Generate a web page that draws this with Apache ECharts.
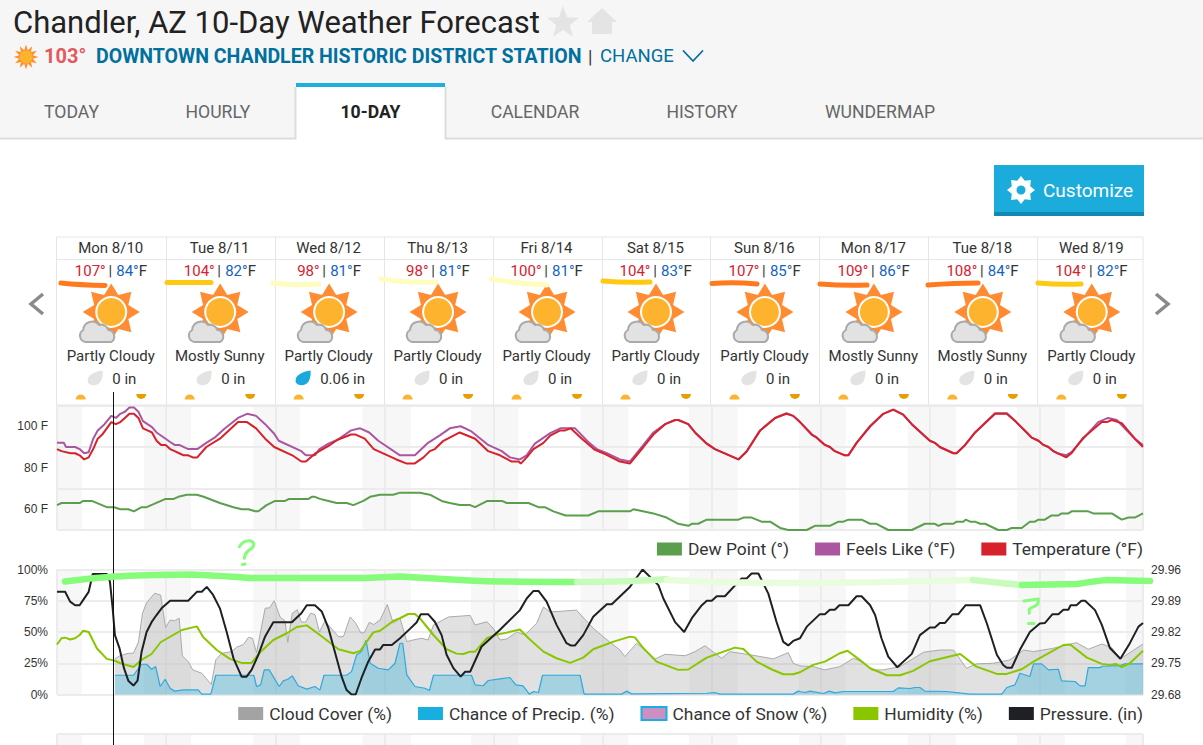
<!DOCTYPE html>
<html><head><meta charset="utf-8"><title>Chandler, AZ 10-Day Weather Forecast</title>
<style>html,body{margin:0;padding:0;background:#fff;overflow:hidden}#c{width:1203px;height:745px}</style>
<script src="https://cdn.jsdelivr.net/npm/echarts@6/dist/echarts.min.js"></script></head><body><div id="c"></div>
<script>
const dayLabels=['Mon 8/10','Tue 8/11','Wed 8/12','Thu 8/13','Fri 8/14','Sat 8/15','Sun 8/16','Mon 8/17','Tue 8/18','Wed 8/19'];
const highs=[107,104,98,98,100,104,107,109,108,104];
const lows=[84,82,81,81,81,83,85,86,84,82];
const conditions=['Partly Cloudy','Mostly Sunny','Partly Cloudy','Partly Cloudy','Partly Cloudy','Partly Cloudy','Partly Cloudy','Mostly Sunny','Mostly Sunny','Partly Cloudy'];
const precipAmounts=['0 in','0 in','0.06 in','0 in','0 in','0 in','0 in','0 in','0 in','0 in'];
const tabs=['TODAY','HOURLY','10-DAY','CALENDAR','HISTORY','WUNDERMAP'];
const tempTicks=[60,80,100];
// the time axis ends just short of 240 h: the last day column is cut off
const AXIS_HOURS=238.8, READ_SPAN=240;
// night bands, hours from the start of the chart
const nightBands=[[0,5.5],[19.2,29.6],[43.4,53.7],[67.5,78.2],[91.5,102],[115.7,126.3],[139.7,150.4],[164,174.3],[188,198.7],[212.2,222.8],[236.2,240]];
// [hour, value]
const temperature=[[0,89],[1,88],[3,87],[4,87],[5,86],[6,84],[7,85],[8,89],[9,94],[10,96],[11,99],[12,102],[13,101],[14,102],[15,104],[16,106],[17,106],[18,104],[19,99],[20,98],[21,97],[22,93],[23,91],[24,91],[25,89],[26,88],[27,87],[28,86],[29,86],[30,85],[31,85],[33,90],[36,94],[40,102],[42,102],[44,99],[46,94],[48,90],[52,86],[54,83],[55,83],[57,86.8],[60,90.5],[62,93.5],[65,96],[66,96],[68,94],[70,89],[75,84],[77.3,82],[79,82],[81,85],[82.4,88],[83.5,89],[85.4,93],[89,97],[92.4,94],[95.3,88],[97.9,86],[100.5,83],[102,83],[102.5,82],[103.8,85],[105.3,89],[107.5,92],[109,95.5],[111.2,98],[112.3,98],[113.5,99],[116,94],[118.9,88.6],[120.7,87],[124.4,83],[126.6,82],[129.6,90],[131.8,96],[134.4,101],[136.6,103],[137.3,103],[139.5,101],[141,97],[143.6,91.6],[145.4,89],[150.6,84],[152.4,87.8],[155.4,98],[158.7,104],[161.2,106],[162.7,105],[164.2,102],[166.8,96],[167.9,94.5],[169.7,91],[170.8,90],[171.9,88],[174.1,86],[174.9,86],[176.7,92],[179.7,100],[182.6,106],[184.8,108],[187,105.6],[188.9,101],[192.9,93],[194,92],[195.1,90],[198.1,87],[198.8,87],[200.7,91],[202.9,97],[207.3,106],[209.9,106],[212,102],[214.3,97],[215.4,94.5],[216.9,93],[218,91],[219.1,90],[220.2,88],[223,85],[224.2,87],[226.8,94.5],[230.9,102],[232,102],[233.1,103],[235.3,101.5],[238.2,94],[240,90]];
const feelsLike=[[0,92],[1.5,92],[2,90],[4,90],[5,89],[6,87],[7,87.5],[8,94],[9,98],[10.5,101],[12,105],[13,104],[14,106],[15,107],[16,109],[17,109],[18,107],[19,102.5],[20,101],[21,99.6],[22,97],[24,94],[25,92.4],[26,91],[27,91],[29,89],[31,89],[33,92],[35,94.8],[37,98.8],[40,104],[42,106],[44,105],[46,101],[48,96.4],[49,93],[54,88],[55,86],[57,86],[58,89],[60,91.6],[62,93.5],[65,98],[67,99],[69,97],[71,93],[75.8,86],[79.1,86],[82,92],[84.6,95.6],[86.8,99],[89.2,100],[91.6,97.5],[95.3,91],[98.3,88],[100.1,85],[102.3,84],[103.8,86],[105.6,91.6],[109,96.7],[111.2,99],[114.5,99],[117.4,92.4],[119.3,89],[121.5,87],[124.4,84],[126.6,83],[129.6,91],[131.8,97],[134.4,101],[136.6,103],[137.3,103],[139.5,101],[141,97],[143.6,91.6],[145.4,89],[150.6,84],[152.4,87.8],[155.4,98],[158.7,104],[161.2,106.3],[162.7,105],[164.2,102],[166.8,96],[167.9,94.5],[169.7,91],[170.8,90],[171.9,88],[174.1,86],[174.9,86],[176.7,92],[179.7,100],[182.6,106],[184.8,108],[187,105.6],[188.9,101],[192.9,93],[194,92],[195.1,90],[198.1,87],[198.8,87],[200.7,91],[202.9,97],[207.3,106.3],[209.9,106.3],[212,102],[214.3,97],[215.4,94.5],[216.9,93],[218,91],[219.1,90],[220.2,88],[221,87],[223,86],[224.2,87.5],[227.2,95],[230.1,102],[232.3,104],[234.2,103],[238.2,94],[240,91]];
const dewPoint=[[0,62],[1,63],[5,63],[5.8,64],[7.7,64],[11,61],[12.6,61],[14,60],[15.8,60],[17,59],[18.7,61],[19.8,61],[24,65],[25.8,65],[26.8,66],[28.7,67],[30.9,67],[32.4,66],[36,63],[39,61],[40.8,60],[42.3,60],[43.8,59],[44.5,59],[46.3,62],[48.2,64],[50.4,64],[51.3,65],[55.6,65],[56.3,66],[57,66],[58.1,65],[60,64],[61.8,63],[64,63],[65.5,62],[67.7,64],[69.2,66],[71.4,67],[74.3,67],[75.8,68],[80.2,68],[82.4,67],[85,64],[86.8,63],[89,62],[91.3,62],[92.4,61],[95.1,64],[98.3,64],[99.4,63],[104.2,63],[106.4,61],[107.8,61],[109.7,59],[112.4,57],[117.4,57],[119.6,59],[126.6,59],[127.4,60],[131.8,58],[134.7,56],[137.3,53],[139.5,52],[140.3,53],[141.7,53],[143.6,55],[150.6,55],[151.7,56],[153.5,56],[155.7,54],[157.6,54],[159.8,51],[161.6,50],[165.7,50],[167.5,52],[170.8,52],[172.7,54],[173.8,54],[174.9,55],[177.8,55],[179.7,53],[181.1,53],[183.7,50],[188.9,50],[191.8,53],[194,53],[194.8,52],[195.9,53],[198.1,53],[198.8,54],[200.3,54],[200.8,55],[201.8,54],[202.9,54],[204,53],[205.1,53],[208,50],[209.9,50],[211,51],[213.2,51],[215,54],[216.1,54],[216.9,55],[218.3,55],[219.8,57],[221.3,57],[222,58],[223.5,58],[224.2,59],[227.9,59],[229,58],[233.1,58],[235.3,55],[236.8,56],[238.2,56],[240,58]];
const humidity=[[0,40],[1,45],[1.8,45.5],[2.9,44],[4,45],[5,47.6],[5.8,51],[7,50],[8.8,37],[11,28.5],[12.8,27],[14,25],[16.9,22],[18.7,27.7],[20.9,32.4],[22.9,41.8],[27.6,51.6],[30.9,54.5],[32.3,46],[35.3,35.6],[38.2,28.5],[40.8,25.3],[43,25.3],[44.9,33.8],[47.8,43.6],[50.8,49],[53,54],[55.2,55.3],[58.1,47.6],[62.2,36.2],[65.5,33],[67,34.8],[69.9,49.7],[71.4,51],[74.3,58.8],[75.8,61],[77.6,64.4],[79.1,64.4],[80.2,61],[83.2,47.6],[86.1,36.2],[88.3,32.7],[89.8,32.4],[91.3,34.3],[92.4,34.3],[95,45],[97.2,48],[99.4,49.5],[102.3,52],[104.2,45],[107.5,34.3],[110.4,29],[113.4,25.3],[116.3,29.5],[118.5,36.2],[123,42.3],[126.6,46.3],[127.7,45.7],[129.6,37],[132.5,26.3],[137.3,19.7],[139.5,20],[143.6,29.5],[149.8,37.5],[151.7,36.4],[154.6,26.3],[158,20],[160.5,16.2],[162.7,16.2],[164.2,17.8],[167.1,23.7],[169.7,26.3],[173,33],[174.7,35],[177.1,28.5],[179.7,21],[183.4,15.4],[186.3,15.4],[189.2,18.9],[192.9,26.6],[199.6,32.4],[203.2,22.3],[207.7,16.5],[209.9,16.5],[213.2,20.2],[215.8,26.3],[222.4,39.6],[223.9,40],[227.6,29.5],[230.9,24.5],[232.7,23.7],[234,24.5],[235.3,22],[237.1,25],[240,35]];
const pressure=[[0,29.91],[1.8,29.91],[2.9,29.888],[4,29.88],[5,29.88],[5.8,29.892],[7,29.91],[7.9,29.95],[11,29.95],[11.7,29.933],[12.3,29.873],[12.8,29.813],[13.8,29.784],[14.8,29.739],[15.8,29.71],[16.9,29.70],[17.8,29.711],[18.7,29.776],[19.8,29.82],[20.9,29.842],[22,29.858],[23.1,29.873],[25,29.89],[29,29.89],[30.9,29.91],[32,29.91],[33.1,29.921],[34.5,29.903],[36,29.873],[37.5,29.82],[39,29.761],[40.8,29.72],[41.9,29.72],[43,29.735],[44.5,29.769],[46,29.81],[47.8,29.842],[51.9,29.842],[54,29.862],[55.2,29.88],[57,29.88],[58.5,29.866],[60,29.828],[61.4,29.776],[62.9,29.72],[64,29.69],[65.1,29.68],[66,29.68],[67.3,29.717],[68.8,29.754],[70.3,29.781],[71.4,29.781],[72.1,29.791],[74,29.791],[75.8,29.806],[78,29.827],[79.5,29.842],[80.4,29.86],[82,29.86],[83.5,29.843],[85,29.813],[86.1,29.769],[87.6,29.739],[89.2,29.72],[90.2,29.731],[91.3,29.731],[93.8,29.787],[97.9,29.825],[102.3,29.869],[103.8,29.895],[105.3,29.912],[106.4,29.912],[108.2,29.888],[110.4,29.836],[112.6,29.795],[113.5,29.79],[114.5,29.79],[116.3,29.813],[118.5,29.854],[121.5,29.882],[122.6,29.882],[126.6,29.921],[129.4,29.96],[132.9,29.925],[134,29.895],[136.6,29.842],[138.6,29.82],[140.3,29.851],[142.5,29.88],[143.6,29.89],[144.7,29.89],[145.8,29.9],[147.6,29.9],[151.3,29.94],[152.4,29.94],[153.5,29.951],[155,29.951],[157.2,29.906],[159,29.843],[160.5,29.798],[161.6,29.79],[162.7,29.8],[164.2,29.806],[165.7,29.832],[168.6,29.86],[169.7,29.86],[170.8,29.87],[171.9,29.87],[172.9,29.88],[174.9,29.88],[176.7,29.9],[177.8,29.9],[179.7,29.88],[180.8,29.858],[182.2,29.806],[183.7,29.765],[185.7,29.741],[188.9,29.771],[190.7,29.813],[192.9,29.83],[194,29.83],[195.1,29.84],[196.2,29.84],[197.9,29.86],[199.2,29.86],[200.8,29.88],[204,29.88],[205.5,29.839],[207.7,29.769],[209.1,29.746],[209.9,29.74],[211,29.74],[212.8,29.78],[215,29.82],[217.2,29.839],[218.3,29.84],[220,29.86],[221.3,29.86],[222.4,29.87],[223.5,29.87],[224,29.88],[225.3,29.88],[226.4,29.89],[227.2,29.89],[229.4,29.869],[230.9,29.836],[232.7,29.784],[235,29.76],[237.1,29.795],[239,29.832],[240,29.84]];
const cloudCover=[[12.8,28.5],[13.9,31],[15.8,33],[16.9,33],[18,42],[18.9,65],[19.8,73.4],[21.6,81],[22.9,79.5],[24,53.5],[25,59.6],[26,59],[27,61],[27.7,31],[29,26.3],[30,19.7],[32,17],[34.1,8],[35.1,27.7],[36.4,33],[38.6,34.3],[39.7,37.8],[41.2,40],[42.3,45.7],[43.2,45],[44.1,33.5],[46,69],[47,69.4],[48,75],[49.3,62],[50.4,58.8],[51,41.8],[52,65],[53.1,67.8],[54,58],[55,58],[56,65],[57,64],[58,50],[59.2,58.8],[62.2,46.3],[63.3,46.3],[64.8,62],[65.9,57.7],[67.2,49],[68,50],[69,57.7],[70,56],[71.4,59.6],[73,72],[74.3,57],[75.8,61],[77.3,42.3],[78.7,43.6],[80.6,45],[82,43.6],[83.2,55.6],[86.5,62],[91.3,63.3],[92.4,55.6],[95,58.2],[96.4,53],[97.9,43.6],[99.4,44.4],[101.6,50],[103.4,47.6],[106,57],[107.5,70],[109,66],[114.8,67.5],[118.5,53],[122.2,41.8],[124.4,35.6],[125.5,30.3],[128.1,41],[132.2,28.5],[134.4,32.2],[138.8,31],[141,34.3],[143.2,39],[146.9,29],[148.7,34.3],[153.5,31.6],[158.3,28.5],[161.6,33.5],[162.7,25],[164.2,22.9],[167.1,22.3],[169.7,19.7],[173,22.3],[176,29],[178.2,25.8],[180,19.7],[182.6,19.7],[186.3,22.3],[191.5,33.8],[195.1,35.6],[198.1,35.6],[201,21],[203.2,24.5],[206.9,25],[210.6,27.7],[213.6,35.6],[215.8,34.3],[220.2,37],[225.3,41.5],[227.9,36.2],[230.9,40.4],[233.1,37.5],[235,28.5],[240,40.4]];
const precipChance=[[12.8,15.4],[16.9,15.4],[18.7,24.2],[19.8,24.2],[20.9,20.2],[21.8,22.3],[22.8,6.4],[23.9,12.2],[25,5],[26,2.7],[27.9,3.7],[31.2,3.7],[32,0.3],[34,0.3],[35.1,15.4],[43.5,15.4],[44.1,6.4],[45,7.7],[45.8,19.7],[46.9,19.7],[49.1,6.4],[50,10.9],[51,12.2],[52,14.9],[53.3,7],[55.2,4.3],[57,6.4],[58.1,3.5],[59,15.4],[64,15.4],[65.1,18.3],[66.2,31.6],[67.3,34.3],[68.3,43.4],[69.2,25],[71,21],[73.2,19.7],[74.7,25],[75.8,41],[76.4,41],[77.3,15.7],[79.1,6.4],[81.3,5],[82.3,3.2],[83.2,15.4],[91.6,15.4],[92.4,7.7],[94.2,7],[95.3,11.2],[97.9,12.5],[100.1,13.6],[101.4,7.7],[103,6.9],[104.4,0.3],[105.3,2.4],[106.4,1.6],[107.3,15.4],[115.6,15.4],[116.5,0.3],[124.8,0.3],[125.9,2.7],[127,0.5],[143.6,1],[145.4,1.6],[146.5,0.3],[162.7,0.3],[163.8,2.7],[164.2,2.4],[165.3,1.6],[166.4,2.7],[169.4,0.8],[170.7,2.7],[171.9,1.3],[173.8,2.4],[184.8,2.4],[185.9,5.3],[188.5,4.8],[189.6,5.6],[190.7,5.6],[191.8,2.7],[196.6,2.4],[201.8,0.3],[208.8,0.3],[209.9,5.6],[211.7,7.7],[212.8,17],[215,14.4],[215.8,24.5],[217.6,24.5],[219.1,19.7],[221.3,20.2],[222,10.9],[225,10.4],[226.1,6.9],[227.2,6.9],[227.9,21.5],[230.5,21.5],[231,22.6],[234.9,23.1],[236,24.5],[240,24.5]];
const snowChance=[];

const ROBOTO='Roboto, sans-serif', ARIAL='"Liberation Sans", Arial, sans-serif';
const GRID_LINE='#ececec', NIGHT='#f7f7f7';
const gfx=[];
const add=o=>{gfx.push(o);return o};
const txt=(x,y,s,size,fill,align,weight,z)=>add({type:'text',x,y,z:z||50,silent:true,style:{text:s,font:(weight||'normal')+' '+size+'px '+ROBOTO,fill,textAlign:align||'left',textVerticalAlign:'middle'}});
const rect=(x,y,w,h,fill,z)=>add({type:'rect',z:z===undefined?1:z,silent:true,shape:{x,y,width:w,height:h},style:{fill}});
const seg=(x1,y1,x2,y2,stroke,lw,z)=>add({type:'line',z:z||50,silent:true,shape:{x1,y1,x2,y2},style:{stroke,lineWidth:lw||1}});
let shapeCount=0;
const pathEl=(d,style,z)=>{const name='chromePath'+(shapeCount++);echarts.graphic.registerShape(name,echarts.graphic.extendPath(d,{}));return add({type:name,z:z||50,silent:true,shape:{},style:Object.assign({fill:'none',lineCap:'round',lineJoin:'round'},style)})};
function star(cx,cy,R,r,n,fill,rot,z){const p=[];for(let i=0;i<2*n;i++){const a=(rot||0)+Math.PI*i/n-Math.PI/2,q=i%2?r:R;p.push([cx+q*Math.cos(a),cy+q*Math.sin(a)])}add({type:'polygon',z:z||50,silent:true,shape:{points:p},style:{fill}})}
const circle=(cx,cy,r,fill,z,stroke,lw)=>add({type:'circle',z:z||50,silent:true,shape:{cx,cy,r},style:{fill,stroke,lineWidth:lw}});

// page header
rect(0,0,1203,139,'#f6f6f6',0);
seg(0,138.5,296,138.5,'#dcdcdc',2,1);seg(445,138.5,1203,138.5,'#dcdcdc',2,1);
txt(13,22,'Chandler, AZ 10-Day Weather Forecast',31,'#222');
star(563,23,17,7,5,'#e4e4e4');
add({type:'polygon',z:50,silent:true,shape:{points:[[602,8],[617,22],[612,22],[612,34],[592,34],[592,22],[587,22]]},style:{fill:'#e4e4e4'}});
star(26,57,12.5,7,12,'#ff8f2e');circle(26,57,6.5,'#fdb32d',51);
txt(44,56,'103°',20,'#e2595f','left','bold');
txt(96,56,'DOWNTOWN CHANDLER HISTORIC DISTRICT STATION',19.55,'#00709e','left','bold');
txt(588,56,'|',18,'#333');
txt(600,56,'CHANGE',18.5,'#00709e');
pathEl('M683.5 51 L693 61 L702.5 51',{stroke:'#00709e',lineWidth:1.8});
rect(295,85,151,54,'#fff',2);rect(296,83,149,4,'#1dafdf',3);
seg(295.5,87,295.5,139,'#dcdcdc',2,3);seg(445.5,87,445.5,139,'#dcdcdc',2,3);
const tabX=[71.5,218,370.5,535,702,880];
tabs.forEach((t,i)=>txt(tabX[i],112,t,17.6,i===2?'#222':'#666','center',i===2?'bold':'normal'));
// customize button
rect(994,165,150,51,'#1bacdc',1);rect(994,212,150,4,'#1288b3',2);
star(1021,190,14,10,8,'#fff',0);circle(1021,190,9,'#fff',51);circle(1021,190,4.5,'#1bacdc',52);
txt(1043,190,'Customize',19,'#fff');
// nav arrows
pathEl('M43 294 L31 304 L43 314',{stroke:'#8a8a8a',lineWidth:3.5,lineCap:'butt',lineJoin:'miter'});
pathEl('M1156 294 L1168 304 L1156 314',{stroke:'#8a8a8a',lineWidth:3.5,lineCap:'butt',lineJoin:'miter'});
// forecast table
const X0=56.75,CW=108.95;
add({type:'rect',z:1,silent:true,shape:{x:56.5,y:237,width:1086.5,height:168},style:{fill:'none',stroke:'#e6e6e6',lineWidth:1}});
seg(57,259.5,1143,259.5,'#e6e6e6',1,1);
const strokes=[
 ['M61 283 Q80 285 105 285.5','#ff7a1f'],['M167 282.5 L211 282.5','#ffc913'],['M273 283 Q295 286 319 284','#fffcc0'],['M381 279 Q410 283 436 282','#fffcc0'],['M491 279 Q520 284 547 285','#fffcc0'],
 ['M603 281 Q625 283 650 282','#ffc913'],['M712 283.5 Q735 282 757 284','#ff7a1f'],['M820 284 Q845 286 867 285','#ff7a1f'],['M928 285 Q955 283 978 283','#ff7a1f'],['M1038 283 Q1060 285 1081 284','#ffc913']];
dayLabels.forEach((d,i)=>{
  const x=X0+CW*i,c=x+CW/2;
  if(i) seg(Math.round(x)+.5,237,Math.round(x)+.5,405,'#e6e6e6',1,1);
  txt(c-.5,248,d,15,'#333','center');
  const off=highs[i]>=100?0:-4;
  txt(c-5.5+off,271,highs[i]+'°',15,'#d7202f','right');
  txt(c-1+off,271,'|',15,'#333','center');
  txt(c+5+off,271,lows[i]+'°',15,'#1565c0');
  txt(c+27.5+off,271,'F',15,'#333');
  pathEl(strokes[i][0],{stroke:strokes[i][1],lineWidth:5},52);
  // weather icon
  star(c,312,28.5,18.5,8,'#ff8c32',0,40);
  circle(c,312,16,'#fff',41);circle(c,312,14,'#fdb32d',42);
  const cx=c-13,cy=335;
  pathEl('M'+(cx-13)+' '+(cy+7)+' a6.5 6.5 0 0 1 -2 -12 a9 9 0 0 1 16 -5 a7 7 0 0 1 9 5 a6.5 6.5 0 0 1 3 12 Z',{fill:'#e2e2e2',stroke:'#aaa',lineWidth:2},43);
  txt(c-.5,356,conditions[i],15,'#333','center');
  const wet=precipAmounts[i]!=='0 in',dx=wet?-26:-16;
  pathEl('M'+(c+dx+7.5)+' 370.5 Q'+(c+dx+8)+' 381 '+(c+dx+3)+' 384 Q'+(c+dx-3)+' 387 '+(c+dx-7)+' 383 Q'+(c+dx-9)+' 378 '+(c+dx-4)+' 374.5 Q'+(c+dx+1)+' 371 '+(c+dx+7.5)+' 370.5 Z',{fill:wet?'#1aa9dc':'#e3e3e3'});
  txt(c+(wet?-9:1),378.5,precipAmounts[i],15,'#333');
  // sunrise / sunset domes
  pathEl('M'+(x+19)+' 399.5 a5 5 0 0 1 10 0 Z',{fill:'#fdb32d'});
  pathEl('M'+(x+79.5)+' 394 a5 5 0 0 0 10 0 Z',{fill:'#e69f00'});
});
// current-time cursor and hand-drawn annotations
seg(113.5,392,113.5,745,'#111',1,60);
pathEl('M65 581.5 Q90 578 115 576.5 T190 574.5 Q225 576 250 578 L365 578 T400 576.5 Q430 578 460 580 T577 582',{stroke:'#86fc7a',lineWidth:6.5},61);
pathEl('M577 582 Q630 582 667 579',{stroke:'#c9fcbc',lineWidth:6.5},61);
pathEl('M667 580 Q720 583 790 583 T973 580',{stroke:'#e8fddc',lineWidth:6.5},61);
pathEl('M973 580 Q1000 583 1022 585',{stroke:'#c9fcbc',lineWidth:6.5},61);
pathEl('M1022 585 L1077 584 Q1095 581 1107 580 L1150 581',{stroke:'#86fc7a',lineWidth:6.5},61);
pathEl('M239.3 546.7 Q243.3 540 250 540.7 Q256.7 543.3 251.7 548.3 Q245 551.7 244.3 558.3 M242.5 564.5 L245 564',{stroke:'#86fc7a',lineWidth:3},61);
pathEl('M1024 601 L1038.3 599 Q1039.3 605 1033.3 606.7 L1029.3 609 L1029.3 613.3 M1028.5 623.5 L1034 623.5',{stroke:'#86fc7a',lineWidth:3},61);

const onAxis=d=>d.map(p=>[p[0]*AXIS_HOURS/READ_SPAN,p[1]]);
const xAxis=g=>({type:'value',gridIndex:g,min:0,max:AXIS_HOURS,interval:24,axisLine:{show:false},axisTick:{show:false},axisLabel:{show:false},splitLine:{show:true,lineStyle:{color:GRID_LINE,width:2}}});
const yStyle={axisLine:{show:false},axisTick:{show:false},splitLine:{show:true,lineStyle:{color:GRID_LINE,width:2}}};
const nightArea=()=>({silent:true,z:-1,itemStyle:{color:NIGHT},data:nightBands.map(b=>[{xAxis:b[0]*AXIS_HOURS/READ_SPAN},{xAxis:b[1]*AXIS_HOURS/READ_SPAN}])});
const line=(name,data,color,x,y,extra)=>Object.assign({name,type:'line',data:onAxis(data),xAxisIndex:x,yAxisIndex:y,showSymbol:false,symbol:'none',smooth:false,silent:true,animation:false,lineStyle:{color,width:2},itemStyle:{color}},extra||{});
const legendBase={orient:'horizontal',icon:'rect',itemWidth:25,itemHeight:13,itemGap:26,selectedMode:false,padding:0,textStyle:{fontFamily:ROBOTO,fontSize:17.4,color:'#333',padding:[0,0,0,1]}};

const option={
  animation:false,backgroundColor:'#fff',
  textStyle:{fontFamily:ROBOTO},
  graphic:{elements:gfx},
  grid:[{left:57,width:1086,top:405.5,height:124.5},{left:57,width:1086,top:569.5,height:125},{left:57,width:1086,top:734,height:100}],
  xAxis:[xAxis(0),xAxis(1),xAxis(2)],
  yAxis:[
    Object.assign({type:'value',gridIndex:0,min:50,max:110,interval:20,axisLabel:{margin:9,fontFamily:ARIAL,fontSize:12,color:'#333',customValues:tempTicks,formatter:v=>v+' F'}},yStyle),
    Object.assign({type:'value',gridIndex:1,min:0,max:100,interval:25,axisLabel:{margin:9,fontFamily:ARIAL,fontSize:12,color:'#333',formatter:v=>v+'%'}},yStyle),
    {type:'value',gridIndex:1,position:'right',min:29.68,max:29.96,interval:0.07,axisLine:{show:false},axisTick:{show:false},splitLine:{show:false},axisLabel:{margin:8,fontFamily:ARIAL,fontSize:12,color:'#333',formatter:v=>v.toFixed(2)}},
    Object.assign({type:'value',gridIndex:2,min:0,max:1,interval:1,axisLabel:{show:false}},yStyle)
  ],
  legend:[
    Object.assign({},legendBase,{right:60,top:540.5,data:['Dew Point (°)','Feels Like (°F)','Temperature (°F)']}),
    Object.assign({},legendBase,{right:60,top:705,data:['Cloud Cover (%)','Chance of Precip. (%)','Chance of Snow (%)','Humidity (%)','Pressure. (in)']})
  ],
  series:[
    line('Dew Point (°)',dewPoint,'#5b9e4d',0,0,{markArea:nightArea()}),
    line('Feels Like (°F)',feelsLike,'#ab56a0',0,0),
    line('Temperature (°F)',temperature,'#d7212b',0,0),
    line('Cloud Cover (%)',cloudCover,'#a3a3a3',1,1,{lineStyle:{color:'#aaa',width:1},areaStyle:{color:'rgba(163,163,163,0.33)',opacity:1},markArea:nightArea()}),
    line('Chance of Precip. (%)',precipChance,'#18aee0',1,1,{lineStyle:{color:'#2fa9dc',width:1.2},areaStyle:{color:'rgba(24,174,224,0.3)',opacity:1}}),
    line('Chance of Snow (%)',snowChance,'#cc8fc2',1,1,{itemStyle:{color:'#cc8fc2',borderColor:'#18aee0',borderWidth:2}}),
    line('Humidity (%)',humidity,'#8ac600',1,1),
    line('Pressure. (in)',pressure,'#1f2024',1,2),
    line('night',[],'#fff',2,3,{markArea:nightArea()})
  ]
};
echarts.init(document.getElementById('c'),null,{renderer:'svg',width:1203,height:745}).setOption(option);
</script></body></html>
